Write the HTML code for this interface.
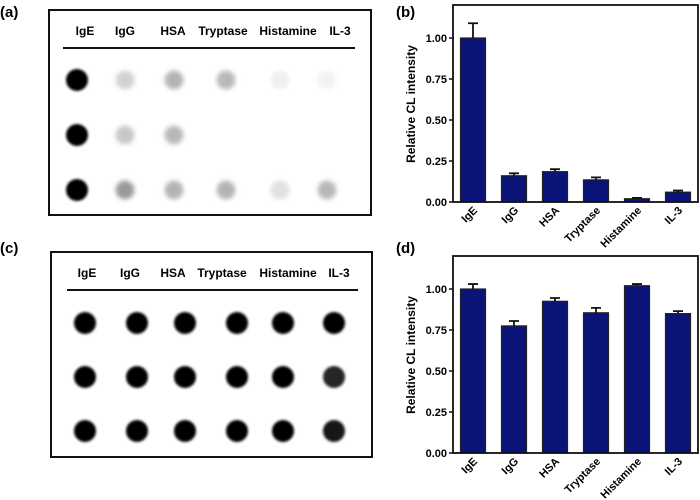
<!DOCTYPE html>
<html><head><meta charset="utf-8"><style>
html,body{margin:0;padding:0;background:#fff}
svg{display:block;font-family:"Liberation Sans",Arial,sans-serif}
</style></head><body>
<svg id="fig" width="700" height="500" viewBox="0 0 700 500">
<defs><filter id="blur" x="-50%" y="-50%" width="200%" height="200%"><feGaussianBlur stdDeviation="1.2"/></filter>
<filter id="blur2" x="-50%" y="-50%" width="200%" height="200%"><feGaussianBlur stdDeviation="2.5"/></filter></defs>
<g font-weight="bold" font-size="15">
<text x="0" y="17">(a)</text>
<text x="396" y="17">(b)</text>
<text x="0" y="253">(c)</text>
<text x="396" y="253">(d)</text>
</g>
<g id="blots"></g>
<g id="charts"></g>
</svg>
<script>
const NS="http://www.w3.org/2000/svg";
const categories=["IgE","IgG","HSA","Tryptase","Histamine","IL-3"];
const valuesB=[1.00,0.16,0.185,0.135,0.02,0.06];
const errorsB=[0.09,0.015,0.015,0.015,0.005,0.01];
const valuesD=[1.00,0.775,0.925,0.855,1.02,0.85];
const errorsD=[0.03,0.03,0.02,0.03,0.01,0.015];
const yTicks=[0,0.25,0.5,0.75,1.0];
const yTickLabels=["0.00","0.25","0.50","0.75","1.00"];
// blot spot intensities (0=white,1=black) rows x columns
const blotA=[[1,0.18,0.3,0.28,0.06,0.05],[1,0.22,0.28,0,0,0],[1,0.4,0.3,0.3,0.12,0.28]];
const blotC=[[1,1,1,1,1,1],[1,1,1,1,1,0.85],[1,1,1,1,1,0.9]];
function mk(tag,attrs,parent){const e=document.createElementNS(NS,tag);for(const k in attrs)e.setAttribute(k,attrs[k]);parent.appendChild(e);return e;}
const blots=document.getElementById('blots');
function blot(name,box,lineY,lineX,labelY,labelX,colX,rowY,data,r){
  const g=mk('g',{},blots);
  
  
  const fr=mk('rect',{x:box[0],y:box[1],width:box[2]-box[0],height:box[3]-box[1],fill:'#fff',stroke:'#111','stroke-width':2},g);
  
  
  const hl=mk('line',{x1:lineX[0],x2:lineX[1],y1:lineY,y2:lineY,stroke:'#111','stroke-width':2},g);
  
  
  categories.forEach((c,i)=>{
    const t=mk('text',{x:labelX[i],y:labelY,'text-anchor':'middle','font-size':12,'font-weight':'bold'},g);
    t.textContent=c;
    
    
  });
  data.forEach((row,ri)=>row.forEach((v,ci)=>{
    if(v<=0)return;
    const gr=Math.round(255*(1-v));
    const col=`rgb(${gr},${gr},${gr})`;
    const s=mk('circle',{cx:colX[ci],cy:rowY[ri],r:v>0.7?r:r*0.85,fill:col,filter:v>0.7?'url(#blur)':'url(#blur2)'},g);
    
    
  }));
}
blot('blot-a',[49,10,371,215],48,[63,355],35,[85,125,173,223,288,340],[77,125,174,226,280,327],[80,135,190],blotA,11);
blot('blot-c',[51,252,372,457],290,[67,358],277,[87,130,173,222,288,339],[85,137,185,237,283,334],[323,377,431],blotC,11);

const charts=document.getElementById('charts');
function chart(name,x0,x1,top,bottom,y1pos,values,errors,titleY){
  const g=mk('g',{},charts);
  
  
  const yS=v=>bottom-(bottom-y1pos)*v;
  const step=41,first=x0+20,bw=25;
  const xS=i=>first+i*step;
  values.forEach((v,i)=>{
    const b=mk('rect',{x:xS(i)-bw/2,y:yS(v),width:bw,height:bottom-yS(v),fill:'#0a1478',stroke:'#222','stroke-width':1.2},g);
    
    
    const ey=yS(v+errors[i]);
    const e=mk('path',{d:`M${xS(i)},${yS(v)}V${ey}M${xS(i)-5},${ey}H${xS(i)+5}`,stroke:'#111','stroke-width':1.8,fill:'none'},g);
    
    
    const t=mk('text',{x:0,y:0,'text-anchor':'end','font-size':11,'font-weight':'bold',transform:`translate(${xS(i)+5},${bottom+9}) rotate(-45)`},g);
    t.textContent=categories[i];
    
    
  });
  const fr=mk('rect',{x:x0,y:top,width:x1-x0,height:bottom-top,fill:'none',stroke:'#111','stroke-width':1.8},g);
  
  
  yTicks.forEach((v,i)=>{
    mk('line',{x1:x0-4,x2:x0,y1:yS(v),y2:yS(v),stroke:'#111','stroke-width':1.5},g);
    const t=mk('text',{x:x0-6,y:yS(v)+4,'text-anchor':'end','font-size':11,'font-weight':'bold'},g);
    t.textContent=yTickLabels[i];
    
    
  });
  const yt=mk('text',{x:0,y:0,'text-anchor':'middle','font-size':12,'font-weight':'bold',transform:`translate(${x0-38},${titleY}) rotate(-90)`},g);
  yt.textContent='Relative CL intensity';
  
  
}
chart('chart-b',453,698,5,202,38,valuesB,errorsB,104);
chart('chart-d',453,698,256,453,289,valuesD,errorsD,355);
</script>
</body></html>
